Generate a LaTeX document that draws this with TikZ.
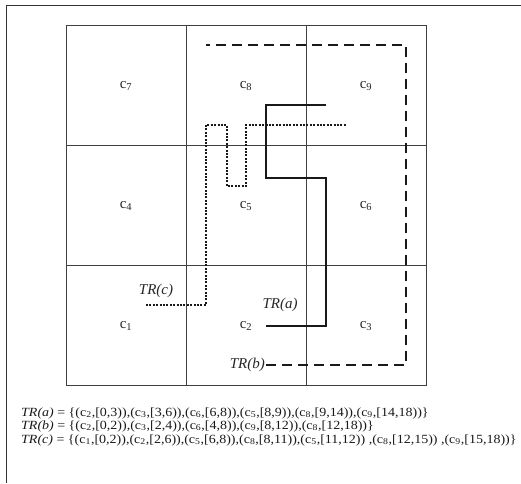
\documentclass[tikz,border=0pt]{standalone}
\usepackage{graphicx}
\usepackage{fontspec}
\setmainfont{Liberation Serif}
\newcommand{\csb}[1]{c\textsubscript{#1}}
\newcommand{\wideline}[1]{\scalebox{1.12}[1]{#1}}
\tikzset{
  gridline/.style={line width=1pt, draw=black!75},
  frameline/.style={line width=1pt, draw=black!80},
  cellname/.style={font=\fontsize{15}{15}\selectfont, text=black!85, inner sep=0pt},
  trlabel/.style={font=\fontsize{15}{15}\selectfont\itshape, text=black!85, inner sep=1pt},
  trline/.style={font=\fontsize{12.5}{12.5}\selectfont, text=black!90, inner sep=0pt, anchor=west},
  patha/.style={line width=1.3pt, black!90},
  pathb/.style={line width=1.4pt, black!90, dash pattern=on 10pt off 6pt},
  pathc/.style={line width=1.4pt, black!90, dash pattern=on 2pt off 1.4pt},
}
\begin{document}
\begin{tikzpicture}[x=1pt,y=-1pt]
\useasboundingbox (0,0) rectangle (521,483);
% frame
\draw[frameline] (6,483) -- (6,5) -- (521,5);
% grid
\draw[gridline] (66,25) rectangle (426,385);
\draw[gridline] (186,25) -- (186,385);
\draw[gridline] (306,25) -- (306,385);
\draw[gridline] (66,145) -- (426,145);
\draw[gridline] (66,265) -- (426,265);
% cells
\node[cellname] (c7) at (126,86) {\csb{7}};
\node[cellname] (c8) at (246,86) {\csb{8}};
\node[cellname] (c9) at (366,86) {\csb{9}};
\node[cellname] (c4) at (126,206) {\csb{4}};
\node[cellname] (c5) at (246,206) {\csb{5}};
\node[cellname] (c6) at (366,206) {\csb{6}};
\node[cellname] (c1) at (126,326) {\csb{1}};
\node[cellname] (c2) at (246,326) {\csb{2}};
\node[cellname] (c3) at (366,326) {\csb{3}};
% TR(a)
\node[trlabel] (tra) at (280,305) {TR(a)};
\coordinate (a0) at (266,326);
\coordinate (a1) at (326,326);
\coordinate (a2) at (326,178);
\coordinate (a3) at (266,178);
\coordinate (a4) at (266,105);
\coordinate (a5) at (326,105);
\draw[patha] (a0) -- (a1) -- (a2) -- (a3) -- (a4) -- (a5);
% TR(b)
\node[trlabel, anchor=east] (trb) at (266,365) {TR(b)};
\coordinate (b1) at (406,365);
\coordinate (b2) at (406,45);
\coordinate (b3) at (206,45);
\draw[pathb] (trb.east) -- (b1) -- (b2) -- (b3);
% TR(c)
\node[trlabel] (trc) at (156,291) {TR(c)};
\coordinate (cc0) at (146,305);
\coordinate (cc1) at (206,305);
\coordinate (cc2) at (206,125);
\coordinate (cc3) at (227,125);
\coordinate (cc4) at (227,186);
\coordinate (cc5) at (246,186);
\coordinate (cc6) at (246,125);
\coordinate (cc7) at (347,125);
\draw[pathc] (cc0) -- (cc1) -- (cc2) -- (cc3) -- (cc4) -- (cc5) -- (cc6) -- (cc7);
% texts
\node[trline] (ta) at (21,413) {\wideline{\textit{TR(a)} = \{(\csb{2},[0,3)),(\csb{3},[3,6)),(\csb{6},[6,8)),(\csb{5},[8,9)),(\csb{8},[9,14)),(\csb{9},[14,18))\}}};
\node[trline] (tb) at (21,426) {\wideline{\textit{TR(b)} = \{(\csb{2},[0,2)),(\csb{3},[2,4)),(\csb{6},[4,8)),(\csb{9},[8,12)),(\csb{8},[12,18))\}}};
\node[trline] (tc) at (21,440) {\wideline{\textit{TR(c)} = \{(\csb{1},[0,2)),(\csb{2},[2,6)),(\csb{5},[6,8)),(\csb{8},[8,11)),(\csb{5},[11,12)) ,(\csb{8},[12,15)) ,(\csb{9},[15,18))\}}};
\end{tikzpicture}
\end{document}
